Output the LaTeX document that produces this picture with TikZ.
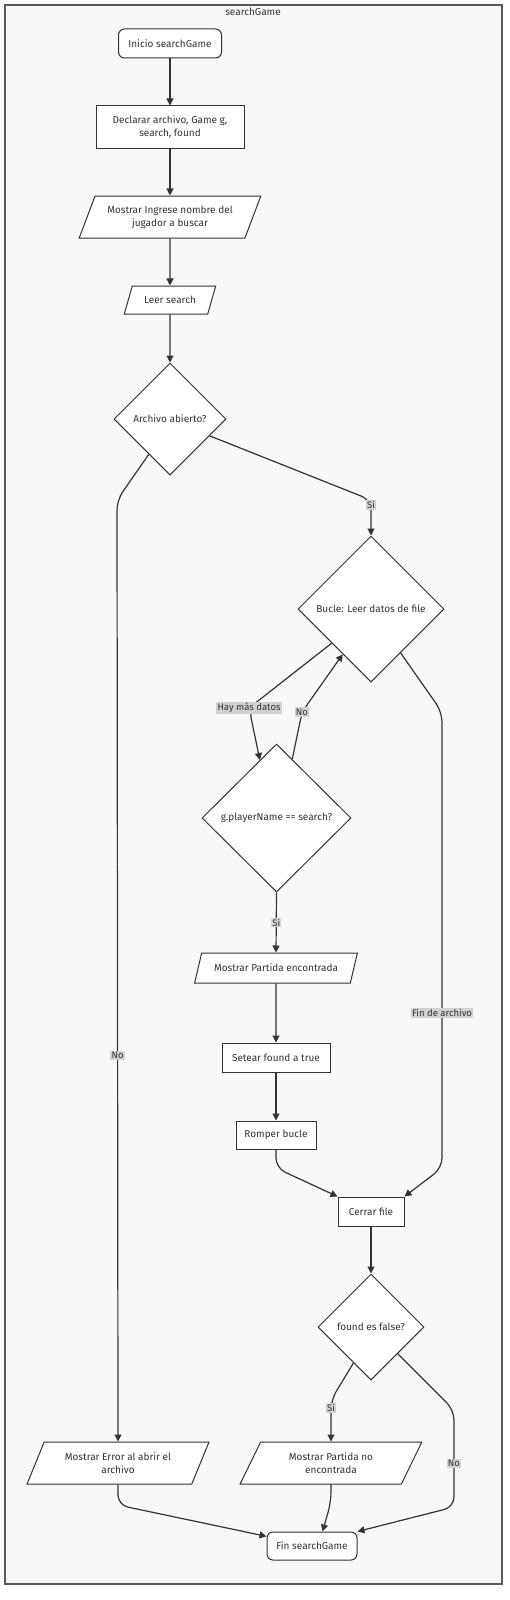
\documentclass[tikz,border=0pt]{standalone}
\usepackage{fontspec}
\setmainfont{Fira Sans}
\usetikzlibrary{arrows.meta,shapes.geometric}
\definecolor{panel}{HTML}{F8F8FA}
\definecolor{ink}{HTML}{333333}

\begin{document}
\begin{tikzpicture}[
  x=1pt,y=-1pt,
  font=\fontsize{10}{13.3}\selectfont,
  box/.style={draw=ink,fill=white,line width=1pt,text=ink,inner sep=2pt,align=center},
  proc/.style={box,rectangle},
  term/.style={box,rectangle,rounded corners=6pt},
  io/.style={box,trapezium,trapezium left angle=63,trapezium right angle=117,trapezium stretches=true},
  decision/.style={box,diamond,inner sep=1pt},
  flow/.style={draw=ink,line width=1.2pt,rounded corners=10pt,-{Triangle[length=7pt,width=7pt]}},
  tag/.style={sharp corners,fill=black!18,text=ink,inner sep=1.2pt,font=\fontsize{9.5}{11}\selectfont}
]
\useasboundingbox (0,0) rectangle (510,1600);

% Frame of the subgraph
\draw[draw=black!65,fill=panel,line width=1.1pt] (5,5) rectangle (502,1584);
\node[text=ink] (title) at (253,12) {searchGame};

% Main column
\node[term,minimum width=103pt,minimum height=29pt] (inicio) at (170,43.5) {Inicio searchGame};
\node[proc,minimum width=148pt,minimum height=42pt] (decl) at (170,127) {Declarar archivo, Game g,\\search, found};
\node[io,minimum width=182pt,minimum height=42pt] (ingrese) at (170,217) {Mostrar Ingrese nombre del\\jugador a buscar};
\node[io,minimum width=92pt,minimum height=28pt] (leer) at (170,300) {Leer search};
\node[decision,minimum width=112pt,minimum height=112pt] (abierto) at (170,419) {Archivo abierto?};

% Loop over the file
\node[decision,minimum width=146pt,minimum height=146pt] (bucle) at (371,609) {Bucle: Leer datos de file};
\node[decision,minimum width=149pt,minimum height=148pt] (igual) at (276.5,818) {g.playerName == search?};
\node[io,minimum width=163pt,minimum height=30pt] (encontrada) at (276,968) {Mostrar Partida encontrada};
\node[proc,minimum width=108pt,minimum height=29pt] (setear) at (276,1057.5) {Setear found a true};
\node[proc,minimum width=80pt,minimum height=28pt] (romper) at (276,1135) {Romper bucle};

% After the loop
\node[proc,minimum width=66pt,minimum height=29pt] (cerrar) at (371,1211.5) {Cerrar file};
\node[decision,minimum width=106pt,minimum height=106pt] (found) at (371,1327) {found es false?};
\node[io,minimum width=182pt,minimum height=42pt] (noenc) at (331,1463) {Mostrar Partida no\\encontrada};
\node[io,minimum width=182pt,minimum height=42pt] (error) at (118,1463) {Mostrar Error al abrir el\\archivo};
\node[term,minimum width=90pt,minimum height=28pt] (fin) at (312,1546) {Fin searchGame};

% Connectors
\draw[flow] (inicio) -- (decl);
\draw[flow] (decl) -- (ingrese);
\draw[flow] (ingrese) -- (leer);
\draw[flow] (leer) -- (abierto);
\draw[flow] (abierto.-23) -- (371,500) -- node[tag,pos=0.15] {Si} (bucle.north);
\draw[flow] (abierto.-121) -- (117,500) -- node[tag,pos=0.59] {No} (error.north);
\draw[flow] (bucle.-139) -- (249,708) node[tag] {Hay más datos} -- (igual.106);
\draw[flow] (igual.75) -- (302,712) node[tag] {No} -- (bucle.-122);
\draw[flow] (bucle.-56) -- (442,712) -- node[tag,pos=0.66] {Fin de archivo} (442,1168) -- (cerrar.north east);
\draw[flow] (igual.south) -- node[tag] {Si} (encontrada.north);
\draw[flow] (encontrada) -- (setear);
\draw[flow] (setear) -- (romper);
\draw[flow] (romper.south) -- (276,1168) -- (cerrar.north west);
\draw[flow] (cerrar) -- (found);
\draw[flow] (found.-116) -- (331,1400) -- node[tag,pos=0.2] {Si} (noenc.north);
\draw[flow] (found.south east) -- (454,1410) -- node[tag,pos=0.55] {No} (454,1507) -- (fin.north east);
\draw[flow] (error.south) -- (118,1505) -- (fin.168);
\draw[flow] (noenc.south) -- (331,1502) -- (fin.54);
\end{tikzpicture}
\end{document}
